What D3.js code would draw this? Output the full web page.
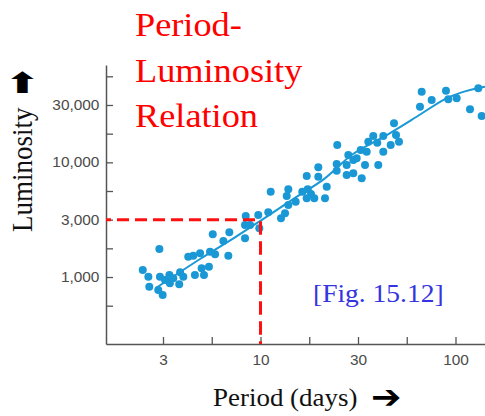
<!DOCTYPE html>
<html><head><meta charset="utf-8">
<script src="https://cdn.jsdelivr.net/npm/d3@7"></script>
<style>html,body{margin:0;padding:0;background:#fff;overflow:hidden}</style>
</head><body><svg id="c" width="485" height="416"></svg>
<script>
// ---- data ----
const periods = [2.49,2.66,2.69,3.03,3.05,2.99,3.15,3.24,3.41,3.43,3.57,3.83,3.87,4.02,4.26,4.52,4.61,4.90,4.99,5.13,5.44,5.51,5.85,5.69,6.45,6.92,6.84,8.33,8.40,8.33,8.84,9.74,9.86,10.96,11.28,12.74,13.36,13.63,13.89,13.89,15.15,16.38,17.26,17.26,17.46,18.16,18.87,19.79,19.79,21.42,21.86,24.59,24.59,24.76,27.67,28.20,27.67,29.92,29.92,31.13,32.65,33.04,34.36,35.05,35.71,37.87,39.70,42.63,40.18,42.63,46.53,48.38,49.54,51.31,67.08,65.75,75.48,89.38,91.84,101.4,118.7,130.9,136.2];
const luminosities = [1151,1006,823,1754,1006,770,697,942,1041,881,974,864,1099,1006,1503,1534,1041,1609,1191,1041,1230,1662,1577,2357,2060,2453,1534,2175,3403,2840,2840,3472,2658,3665,5541,3249,3593,5084,5815,4243,4534,5541,7595,4854,5815,5291,4854,9045,7489,4854,6127,9663,8450,14150,9472,11577,7749,8017,10471,10834,12800,7253,9472,12375,15120,16954,14820,12375,9472,16954,14150,21880,17300,15120,41250,30520,34920,42100,35420,36140,28970,44180,25330];
const fitPeriods = [2.91,4.90,7.40,9.94,14.45,21.4,29.8,44.4,63.2,88.3,107.6,141.7];
const fitLums = [802,1435,2218,3076,4688,7253,11810,17300,24970,35630,40760,45600];
const xTickValues = [Math.sqrt(10), 10, Math.sqrt(1000), 100];
const xTickLabels = ["3","10","30","100"];
const xMinorTicks = [Math.pow(10,0.75), Math.pow(10,1.25), Math.pow(10,1.75)];
const yTickValues = [1000, Math.pow(10,3.5), 10000, Math.pow(10,4.5)];
const yTickLabels = ["1,000","3,000","10,000","30,000"];
const yMinorTicks = [Math.pow(10,2.75), Math.pow(10,3.25), Math.pow(10,3.75), Math.pow(10,4.25), Math.pow(10,4.75)];
const markedPeriod = 10, markedLum = Math.pow(10,3.5);
const titleLines = ["Period-","Luminosity","Relation"];

// ---- layout ----
const SX = 1.1; // horizontal stretch of the reference
const svg = d3.select("#c");
const L = 106, R = 485, T = 65, B = 344;
const x = d3.scaleLog().domain([Math.pow(10,0.2077), Math.pow(10,2.1513)]).range([L, R]);
const y = d3.scaleLog().domain([Math.pow(10,2.4159), Math.pow(10,4.8487)]).range([B, T]);
const blue = "#1a98d5", axisCol = "#555";
const serif = "'Liberation Serif','Times New Roman',serif";
const sans = "'Liberation Sans',Arial,Helvetica,sans-serif";

function stretchText(g, tx, ty, str, size, fill, extra) {
  return g.append("text").attr("transform", `translate(${tx},${ty}) scale(${SX},1)` + (extra||""))
    .attr("font-family", serif).attr("font-size", size).attr("fill", fill).text(str);
}

// axes
const yAxis = d3.axisLeft(y).tickValues(yTickValues.concat(yMinorTicks)).tickSize(-7).tickSizeOuter(0).tickPadding(6)
  .tickFormat(d => { const i = yTickValues.indexOf(d); return i >= 0 ? yTickLabels[i] : ""; });
const xAxis = d3.axisBottom(x).tickValues(xTickValues.concat(xMinorTicks)).tickSize(-7).tickSizeOuter(0).tickPadding(11)
  .tickFormat(d => { const i = xTickValues.indexOf(d); return i >= 0 ? xTickLabels[i] : ""; });

const gy = svg.append("g").attr("transform", `translate(${L},0)`).call(yAxis);
const gx = svg.append("g").attr("transform", `translate(0,${B})`).call(xAxis);
[gx, gy].forEach(g => {
  g.select(".domain").attr("stroke", axisCol).attr("stroke-width", 1.5);
  g.selectAll(".tick line").attr("stroke", axisCol).attr("stroke-width", 1.3);
  g.selectAll(".tick text").attr("fill", "#4a4a4a").attr("font-family", sans).attr("font-size", 14)
    .attr("transform", `scale(${SX},1)`);
});

// fit curve
const fit = fitPeriods.map((p, i) => ({p, l: fitLums[i]}));
svg.append("path").datum(fit)
  .attr("d", d3.line().x(d => x(d.p)).y(d => y(d.l)).curve(d3.curveCatmullRom.alpha(0.5)))
  .attr("fill", "none").attr("stroke", blue).attr("stroke-width", 2);

// points
svg.append("g").selectAll("circle").data(periods.map((p, i) => ({p, l: luminosities[i]})))
  .join("circle").attr("cx", d => x(d.p)).attr("cy", d => y(d.l)).attr("r", 4).attr("fill", blue);

// red dashed guides
svg.append("line").attr("x1", L).attr("x2", x(markedPeriod)).attr("y1", y(markedLum)).attr("y2", y(markedLum))
  .attr("stroke", "#ff1010").attr("stroke-width", 3).attr("stroke-dasharray", "12,6").attr("stroke-dashoffset", 7);
svg.append("line").attr("x1", x(markedPeriod)).attr("x2", x(markedPeriod)).attr("y1", y(markedLum)).attr("y2", B)
  .attr("stroke", "#ff1010").attr("stroke-width", 3).attr("stroke-dasharray", "13.5,6.5").attr("stroke-dashoffset", -1.5);

// title
const tg = svg.append("g");
[36, 82, 127].forEach((by, i) => stretchText(tg, 135, by, titleLines[i], 33, "#ff0000"));

// figure reference
stretchText(svg, 313, 302, "[Fig. 15.12]", 25, "#3434e0");

// axis titles
stretchText(svg, 213, 406, "Period (days)", 24.5, "#111");
svg.append("text").attr("transform", `translate(371,408) scale(${SX},1)`)
  .attr("font-family", "'DejaVu Sans',sans-serif").attr("font-weight", "bold").attr("font-size", 33).attr("fill", "#000").text("➔");
stretchText(svg, 32, 232, "Luminosity", 27, "#111", " rotate(-90)");
svg.append("text").attr("transform", `translate(22,93) scale(1.75,1.2)`).attr("text-anchor", "middle")
  .attr("font-family", "'DejaVu Sans',sans-serif").attr("font-weight", "bold").attr("font-size", 24).attr("fill", "#000").text("⬆");
</script></body></html>
